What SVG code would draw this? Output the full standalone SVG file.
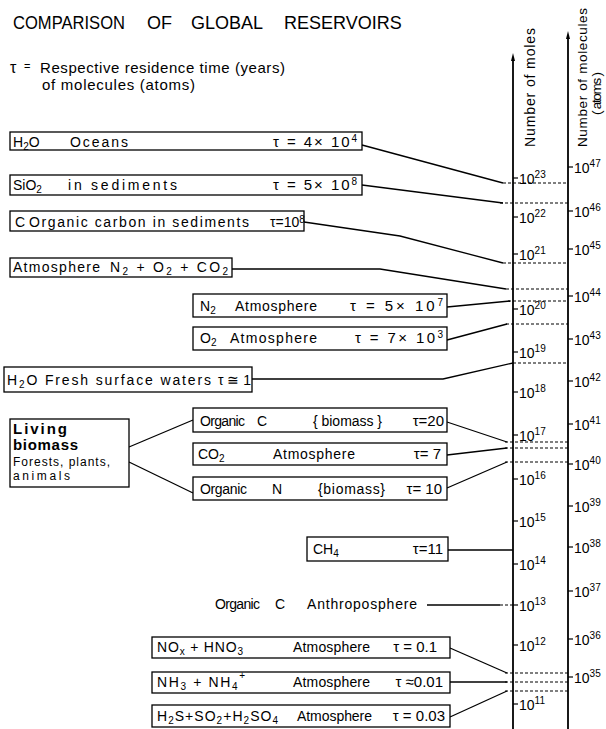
<svg xmlns="http://www.w3.org/2000/svg" width="606" height="729" viewBox="0 0 606 729">
<style>
.box{fill:#fff;stroke:#000;stroke-width:1.3}
.ln{fill:none;stroke:#000;stroke-width:1.3}
.dash{fill:none;stroke:#000;stroke-width:1.2;stroke-dasharray:3 2}
.axis{fill:none;stroke:#000;stroke-width:1.8}
.tick{stroke:#000;stroke-width:1.2}
text{font-family:"Liberation Sans",Arial,sans-serif;fill:#000}
.t{font-size:14px}
.v{font-size:15px}
.s{font-size:10px}
.ax{font-size:14px}
.vx{font-size:13.5px}
.sp{font-size:10px}
.b{font-size:15px;font-weight:bold}
.sm{font-size:12px}
</style>
<rect width="606" height="729" fill="#fff"/>

<g id="title">
<text font-size="18" y="29"><tspan x="13" textLength="112" lengthAdjust="spacingAndGlyphs">COMPARISON</tspan><tspan x="147">OF</tspan><tspan x="191">GLOBAL</tspan><tspan x="284">RESERVOIRS</tspan></text>
<text x="10" y="73" font-size="16">τ</text>
<text x="24" y="70" font-size="11">=</text>
<text x="40" y="73" font-size="15" textLength="245">Respective residence time (years)</text>
<text x="42" y="90" font-size="15" textLength="153">of molecules (atoms)</text>
</g>

<g id="axes">
<line class="axis" x1="513" y1="58" x2="513" y2="729"/>
<path d="M513,53 L511,61 L515,61 Z" fill="#000"/>
<line class="axis" x1="568" y1="36" x2="568" y2="729"/>
<path d="M568,31 L566,39 L570,39 Z" fill="#000"/>
<text class="ax" transform="translate(535,147) rotate(-90)" textLength="119">Number of moles</text>
<text class="vx" transform="translate(587,147) rotate(-90)" textLength="139">Number of molecules</text>
<text class="vx" transform="translate(601,115) rotate(-90)" textLength="43">( atoms )</text>
<g id="ticks-moles">
<line class="tick" x1="513" y1="178" x2="518" y2="178"/>
<line class="tick" x1="513" y1="217" x2="518" y2="217"/>
<line class="tick" x1="513" y1="254" x2="518" y2="254"/>
<line class="tick" x1="513" y1="309" x2="518" y2="309"/>
<line class="tick" x1="513" y1="352" x2="518" y2="352"/>
<line class="tick" x1="513" y1="392" x2="518" y2="392"/>
<line class="tick" x1="513" y1="435" x2="518" y2="435"/>
<line class="tick" x1="513" y1="479" x2="518" y2="479"/>
<line class="tick" x1="513" y1="521" x2="518" y2="521"/>
<line class="tick" x1="513" y1="564" x2="518" y2="564"/>
<line class="tick" x1="513" y1="605" x2="518" y2="605"/>
<line class="tick" x1="513" y1="645" x2="518" y2="645"/>
<line class="tick" x1="513" y1="704" x2="518" y2="704"/>
</g>
<g id="labels-moles">
<text class="ax" x="519" y="184">10<tspan class="sp" baseline-shift="6">23</tspan></text>
<text class="ax" x="519" y="223">10<tspan class="sp" baseline-shift="6">22</tspan></text>
<text class="ax" x="519" y="260">10<tspan class="sp" baseline-shift="6">21</tspan></text>
<text class="ax" x="519" y="315">10<tspan class="sp" baseline-shift="6">20</tspan></text>
<text class="ax" x="519" y="358">10<tspan class="sp" baseline-shift="6">19</tspan></text>
<text class="ax" x="519" y="398">10<tspan class="sp" baseline-shift="6">18</tspan></text>
<text class="ax" x="519" y="441">10<tspan class="sp" baseline-shift="6">17</tspan></text>
<text class="ax" x="519" y="485">10<tspan class="sp" baseline-shift="6">16</tspan></text>
<text class="ax" x="519" y="527">10<tspan class="sp" baseline-shift="6">15</tspan></text>
<text class="ax" x="519" y="570">10<tspan class="sp" baseline-shift="6">14</tspan></text>
<text class="ax" x="519" y="611">10<tspan class="sp" baseline-shift="6">13</tspan></text>
<text class="ax" x="519" y="651">10<tspan class="sp" baseline-shift="6">12</tspan></text>
<text class="ax" x="519" y="710">10<tspan class="sp" baseline-shift="6">11</tspan></text>
</g>
<g id="ticks-molecules">
<line class="tick" x1="568" y1="167" x2="573" y2="167"/>
<line class="tick" x1="568" y1="211" x2="573" y2="211"/>
<line class="tick" x1="568" y1="249" x2="573" y2="249"/>
<line class="tick" x1="568" y1="296" x2="573" y2="296"/>
<line class="tick" x1="568" y1="339" x2="573" y2="339"/>
<line class="tick" x1="568" y1="381" x2="573" y2="381"/>
<line class="tick" x1="568" y1="424" x2="573" y2="424"/>
<line class="tick" x1="568" y1="464" x2="573" y2="464"/>
<line class="tick" x1="568" y1="506" x2="573" y2="506"/>
<line class="tick" x1="568" y1="547" x2="573" y2="547"/>
<line class="tick" x1="568" y1="591" x2="573" y2="591"/>
<line class="tick" x1="568" y1="639" x2="573" y2="639"/>
<line class="tick" x1="568" y1="677" x2="573" y2="677"/>
</g>
<g id="labels-molecules">
<text class="ax" x="574" y="173">10<tspan class="sp" baseline-shift="6">47</tspan></text>
<text class="ax" x="574" y="217">10<tspan class="sp" baseline-shift="6">46</tspan></text>
<text class="ax" x="574" y="255">10<tspan class="sp" baseline-shift="6">45</tspan></text>
<text class="ax" x="574" y="302">10<tspan class="sp" baseline-shift="6">44</tspan></text>
<text class="ax" x="574" y="345">10<tspan class="sp" baseline-shift="6">43</tspan></text>
<text class="ax" x="574" y="387">10<tspan class="sp" baseline-shift="6">42</tspan></text>
<text class="ax" x="574" y="430">10<tspan class="sp" baseline-shift="6">41</tspan></text>
<text class="ax" x="574" y="470">10<tspan class="sp" baseline-shift="6">40</tspan></text>
<text class="ax" x="574" y="512">10<tspan class="sp" baseline-shift="6">39</tspan></text>
<text class="ax" x="574" y="553">10<tspan class="sp" baseline-shift="6">38</tspan></text>
<text class="ax" x="574" y="597">10<tspan class="sp" baseline-shift="6">37</tspan></text>
<text class="ax" x="574" y="645">10<tspan class="sp" baseline-shift="6">36</tspan></text>
<text class="ax" x="574" y="683">10<tspan class="sp" baseline-shift="6">35</tspan></text>
</g>
</g>

<g id="connectors">
<polyline class="ln" points="362,145 503,183"/>
<polyline class="ln" points="362,185 503,203"/>
<polyline class="ln" points="304,222 400,236 503,263"/>
<polyline class="ln" points="232,269 380,269 506,289"/>
<polyline class="ln" points="447,307 510,301"/>
<polyline class="ln" points="447,340 507,324"/>
<polyline class="ln" points="252,379 443,379 513,363"/>
<polyline class="ln" points="129,447 193,420"/>
<polyline class="ln" points="129,462 193,493"/>
<polyline class="ln" points="447,422 507,442"/>
<polyline class="ln" points="447,455 507,448"/>
<polyline class="ln" points="447,488 507,462"/>
<polyline class="ln" points="448,550 513,550"/>
<polyline class="ln" points="427,605 500,605"/>
<line class="dash" x1="500" y1="605" x2="513" y2="605"/>
<polyline class="ln" points="450,648 507,673"/>
<polyline class="ln" points="450,682 507,682"/>
<polyline class="ln" points="450,717 507,691"/>
<line class="dash" x1="503" y1="183" x2="568" y2="183"/>
<line class="dash" x1="500" y1="203" x2="568" y2="203"/>
<line class="dash" x1="503" y1="263" x2="568" y2="263"/>
<line class="dash" x1="506" y1="289" x2="568" y2="289"/>
<line class="dash" x1="508" y1="301" x2="568" y2="301"/>
<line class="dash" x1="506" y1="324" x2="568" y2="324"/>
<line class="dash" x1="513" y1="363" x2="568" y2="363"/>
<line class="dash" x1="505" y1="442" x2="568" y2="442"/>
<line class="dash" x1="505" y1="448" x2="568" y2="448"/>
<line class="dash" x1="505" y1="462" x2="568" y2="462"/>
<line class="dash" x1="505" y1="673" x2="568" y2="673"/>
<line class="dash" x1="505" y1="682" x2="568" y2="682"/>
<line class="dash" x1="505" y1="691" x2="568" y2="691"/>
</g>

<g id="h2o-oceans">
<rect class="box" x="10" y="132" width="352" height="18"/>
<text class="t" x="13" y="147">H<tspan class="s" baseline-shift="-3">2</tspan>O</text>
<text class="t" x="70" y="147" textLength="58">Oceans</text>
<text class="v" x="273" y="147" textLength="84">τ = 4× 10<tspan class="s" baseline-shift="5">4</tspan></text>
</g>
<g id="sio2">
<rect class="box" x="10" y="175" width="352" height="20"/>
<text class="t" x="13" y="190">SiO<tspan class="s" baseline-shift="-3">2</tspan></text>
<text class="t" x="68" y="190" textLength="109">in sediments</text>
<text class="v" x="273" y="190" textLength="84">τ = 5× 10<tspan class="s" baseline-shift="5">8</tspan></text>
</g>
<g id="c-organic">
<rect class="box" x="10" y="211" width="294" height="20"/>
<text class="t" x="15" y="227">C</text>
<text class="t" x="29" y="227" textLength="220">Organic  carbon  in sediments</text>
<text class="t" x="270" y="227">τ=10<tspan class="s" baseline-shift="4">8</tspan></text>
</g>
<g id="atmosphere">
<rect class="box" x="10" y="258" width="222" height="19"/>
<text class="t" x="13" y="272" textLength="87">Atmosphere</text>
<text class="t" x="110" y="272" textLength="118">N<tspan class="s" baseline-shift="-3">2</tspan> + O<tspan class="s" baseline-shift="-3">2</tspan> + CO<tspan class="s" baseline-shift="-3">2</tspan></text>
</g>
<g id="n2">
<rect class="box" x="193" y="294" width="254" height="23"/>
<text class="t" x="200" y="311">N<tspan class="s" baseline-shift="-3">2</tspan></text>
<text class="t" x="235" y="311" textLength="82">Atmosphere</text>
<text class="v" x="350" y="311" textLength="93">τ  = 5× 10<tspan class="s" baseline-shift="5">7</tspan></text>
</g>
<g id="o2">
<rect class="box" x="193" y="327" width="254" height="23"/>
<text class="t" x="200" y="343">O<tspan class="s" baseline-shift="-3">2</tspan></text>
<text class="t" x="230" y="343" textLength="87">Atmosphere</text>
<text class="v" x="355" y="343" textLength="88">τ  = 7× 10<tspan class="s" baseline-shift="5">3</tspan></text>
</g>
<g id="h2o-fresh">
<rect class="box" x="4" y="367" width="248" height="25"/>
<text class="t" x="7" y="385" textLength="204">H<tspan class="s" baseline-shift="-3">2</tspan>O Fresh surface waters</text>
<text class="t" x="218" y="385">τ ≅ 1</text>
</g>
<g id="living-biomass">
<rect class="box" x="10" y="419" width="119" height="68"/>
<text class="b" x="13" y="434" textLength="54">Living</text>
<text class="b" x="13" y="450" textLength="65">biomass</text>
<text class="sm" x="13" y="466" textLength="97">Forests, plants,</text>
<text class="sm" x="13" y="480" textLength="57">animals</text>
</g>
<g id="organic-c">
<rect class="box" x="193" y="408" width="254" height="24"/>
<text class="t" x="200" y="426" textLength="45">Organic</text>
<text class="t" x="257" y="426">C</text>
<text class="t" x="313" y="426" textLength="69">{ biomass }</text>
<text class="v" x="444" y="426" text-anchor="end" font-size="16">τ=20</text>
</g>
<g id="co2">
<rect class="box" x="193" y="443" width="254" height="22"/>
<text class="t" x="198" y="459">CO<tspan class="s" baseline-shift="-3">2</tspan></text>
<text class="t" x="273" y="459" textLength="82">Atmosphere</text>
<text class="v" x="441" y="459" text-anchor="end" font-size="16">τ= 7</text>
</g>
<g id="organic-n">
<rect class="box" x="193" y="477" width="254" height="23"/>
<text class="t" x="200" y="494" textLength="47">Organic</text>
<text class="t" x="272" y="494">N</text>
<text class="t" x="318" y="494" textLength="67">{biomass}</text>
<text class="v" x="442" y="494" text-anchor="end" font-size="16">τ= 10</text>
</g>
<g id="ch4">
<rect class="box" x="307" y="537" width="141" height="24"/>
<text class="t" x="313" y="554">CH<tspan class="s" baseline-shift="-3">4</tspan></text>
<text class="v" x="443" y="554" text-anchor="end" font-size="16">τ=11</text>
</g>
<g id="organic-c-anthroposphere">
<text class="t" x="215" y="609" textLength="45">Organic</text>
<text class="t" x="275" y="609">C</text>
<text class="t" x="307" y="609" textLength="110">Anthroposphere</text>
</g>
<g id="nox">
<rect class="box" x="152" y="637" width="298" height="21"/>
<text class="t" x="157" y="652" textLength="86">NO<tspan class="s" baseline-shift="-3">x</tspan> + HNO<tspan class="s" baseline-shift="-3">3</tspan></text>
<text class="t" x="293" y="652" textLength="77">Atmosphere</text>
<text class="v" x="437" y="652" text-anchor="end" font-size="16">τ = 0.1</text>
</g>
<g id="nh3">
<rect class="box" x="152" y="672" width="298" height="21"/>
<text class="t" x="157" y="687" textLength="88">NH<tspan class="s" baseline-shift="-3">3</tspan> + NH<tspan class="s" baseline-shift="-3">4</tspan><tspan class="s" baseline-shift="8">+</tspan></text>
<text class="t" x="293" y="687" textLength="77">Atmosphere</text>
<text class="v" x="443" y="687" text-anchor="end" font-size="16">τ ≈0.01</text>
</g>
<g id="h2s">
<rect class="box" x="152" y="705" width="298" height="22"/>
<text class="t" x="157" y="721" textLength="121">H<tspan class="s" baseline-shift="-3">2</tspan>S+SO<tspan class="s" baseline-shift="-3">2</tspan>+H<tspan class="s" baseline-shift="-3">2</tspan>SO<tspan class="s" baseline-shift="-3">4</tspan></text>
<text class="t" x="297" y="721" textLength="75">Atmosphere</text>
<text class="v" x="445" y="721" text-anchor="end" font-size="16">τ = 0.03</text>
</g>
</svg>
